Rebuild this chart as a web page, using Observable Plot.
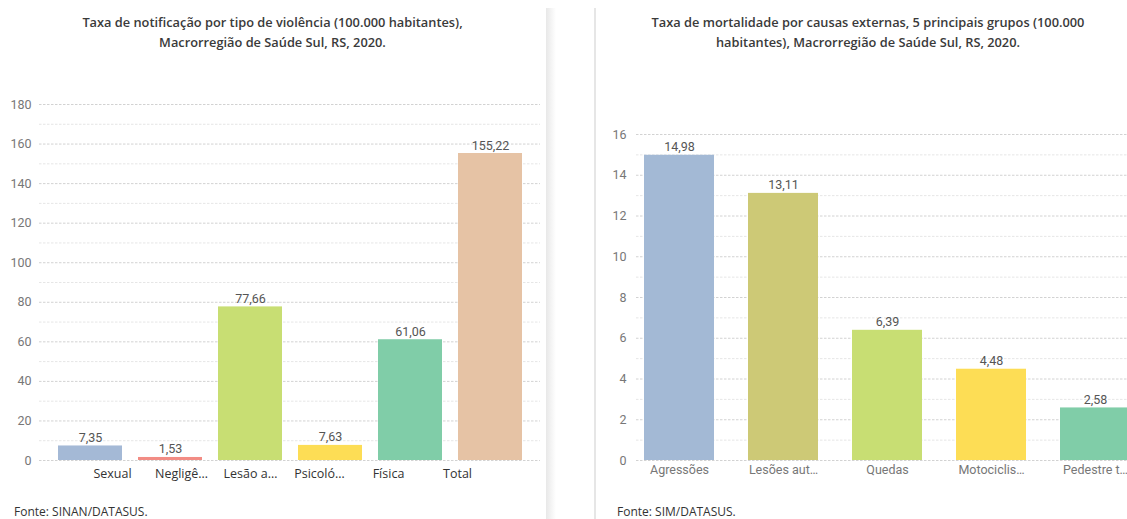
<!DOCTYPE html>
<html>
<head>
<meta charset="utf-8">
<script src="https://cdn.jsdelivr.net/npm/d3@7"></script>
<script src="https://cdn.jsdelivr.net/npm/@observablehq/plot@0.6"></script>
<style>
  html, body { margin: 0; padding: 0; background: #fff; overflow: hidden; }
  #page { position: relative; width: 1127px; height: 519px; overflow: hidden; font-family: "Open Sans", "Noto Sans", sans-serif; }
  .panel { position: absolute; top: 0; height: 519px; }
  .title { position: absolute; left: 0; right: 0; top: 12px; text-align: center; font-size: 12.8px; line-height: 20px; color: #3a3a3a; font-weight: 600; }
  .source { position: absolute; top: 503px; font-size: 12px; color: #333; }
  .layer { position: absolute; left: 0; top: 0; }
  #sep1 { position: absolute; left: 546px; top: 8px; width: 10px; height: 511px; background: linear-gradient(to right, #e8e8e8, #ffffff); }
  #sep2 { position: absolute; left: 594px; top: 8px; width: 2px; height: 511px; background: #e6e6e6; }
</style>
</head>
<body>
<div id="page">
  <div id="sep1"></div>
  <div id="sep2"></div>
  <div class="panel" id="left" style="left:0;width:545px;">
    <div class="title">Taxa de notificação por tipo de violência (100.000 habitantes),<br>Macrorregião de Saúde Sul, RS, 2020.</div>
    <div class="source" style="left:14px;">Fonte: SINAN/DATASUS.</div>
  </div>
  <div class="panel" id="right" style="left:596px;width:544px;">
    <div class="title">Taxa de mortalidade por causas externas, 5 principais grupos (100.000<br>habitantes), Macrorregião de Saúde Sul, RS, 2020.</div>
    <div class="source" style="left:21px;">Fonte: SIM/DATASUS.</div>
  </div>
</div>
<script>
// Notification rate by type of violence (per 100,000 inhabitants)
const violenceTypes = ["Sexual", "Negligê…", "Lesão a…", "Psicoló…", "Física", "Total"];
const violenceRates = [7.35, 1.53, 77.66, 7.63, 61.06, 155.22];
const violenceColors = ["#a4b9d6", "#f28c84", "#c8de73", "#fddd55", "#80cda8", "#e6c3a5"];
const violenceTicks = [0, 20, 40, 60, 80, 100, 120, 140, 160, 180];
const violenceMinorTicks = [10, 30, 50, 70, 90, 110, 130, 150, 170];

// Mortality rate from external causes, five main groups (per 100,000 inhabitants)
const causes = ["Agressões", "Lesões aut…", "Quedas", "Motociclis…", "Pedestre t…"];
const mortalityRates = [14.98, 13.11, 6.39, 4.48, 2.58];
const causeColors = ["#a3b9d5", "#cdc976", "#c8de73", "#fddd55", "#80cda8"];
const mortalityTicks = [0, 2, 4, 6, 8, 10, 12, 14, 16];
const mortalityMinorTicks = [1, 3, 5, 7, 9, 11, 13, 15];

const ptBR = d3.formatLocale({decimal: ",", thousands: ".", grouping: [3], currency: ["R$ ", ""]});
const fmtValue = ptBR.format(".2f");
const numberFont = "Roboto, 'Liberation Sans', sans-serif";

function barChart({cats, values, colors, ticks, minor, width, height, marginTop, marginLeft, marginRight,
                   paddingInner, paddingOuter, tickPadding, xAxis}) {
  const data = cats.map((c, i) => ({cat: c, value: values[i]}));
  return Plot.plot({
    width, height,
    marginTop, marginBottom: height - 460, marginLeft, marginRight,
    style: {fontFamily: numberFont, fontSize: "12.5px", color: "#777", background: "transparent", overflow: "visible"},
    x: xAxis
      ? {domain: cats, paddingInner, paddingOuter, tickSize: 0, tickPadding: 5, label: null}
      : {domain: cats, paddingInner, paddingOuter, axis: null},
    y: {domain: [0, ticks[ticks.length - 1]], ticks, tickFormat: d3.format("d"), tickSize: 0, tickPadding, label: null},
    color: {domain: cats, range: colors},
    marks: [
      Plot.ruleY(minor, {stroke: "#e6e6e6", strokeDasharray: "2.5,1.5"}),
      Plot.ruleY(ticks, {stroke: "#d2d2d2", strokeDasharray: "2.5,1.5"}),
      Plot.barY(data, {x: "cat", y: "value", fill: "cat"}),
      Plot.text(data, {x: "cat", y: "value", text: d => fmtValue(d.value), dy: -4, lineAnchor: "bottom",
                       fill: "#555", fontSize: 12.5})
    ]
  });
}

// Left chart: bars plus a category label strip on its own point scale
const leftPanel = document.getElementById("left");
const leftBars = barChart({
  cats: violenceTypes, values: violenceRates, colors: violenceColors,
  ticks: violenceTicks, minor: violenceMinorTicks,
  width: 545, height: 490, marginTop: 104, marginLeft: 39, marginRight: 5,
  paddingInner: 0.2, paddingOuter: 0.21, tickPadding: 8, xAxis: false
});
leftBars.classList.add("layer");
leftPanel.appendChild(leftBars);

const leftLabels = Plot.plot({
  width: 545, height: 490, marginTop: 104, marginBottom: 30,
  style: {fontFamily: "'Open Sans', 'Noto Sans', sans-serif", fontSize: "12px", color: "#333", background: "transparent"},
  x: {type: "point", domain: violenceTypes, range: [110, 459], padding: 0, axis: null},
  marks: [
    Plot.text(violenceTypes, {x: d => d, frameAnchor: "bottom", lineAnchor: "top", dy: 9, fill: "#333", fontSize: 12.5})
  ]
});
leftLabels.classList.add("layer");
leftPanel.appendChild(leftLabels);

// Right chart
const rightPanel = document.getElementById("right");
const rightBars = barChart({
  cats: causes, values: mortalityRates, colors: causeColors,
  ticks: mortalityTicks, minor: mortalityMinorTicks,
  width: 544, height: 490, marginTop: 134, marginLeft: 40, marginRight: 3,
  paddingInner: 0.33, paddingOuter: 0.07, tickPadding: 10, xAxis: true
});
rightBars.classList.add("layer");
rightPanel.appendChild(rightBars);
</script>
</body>
</html>
